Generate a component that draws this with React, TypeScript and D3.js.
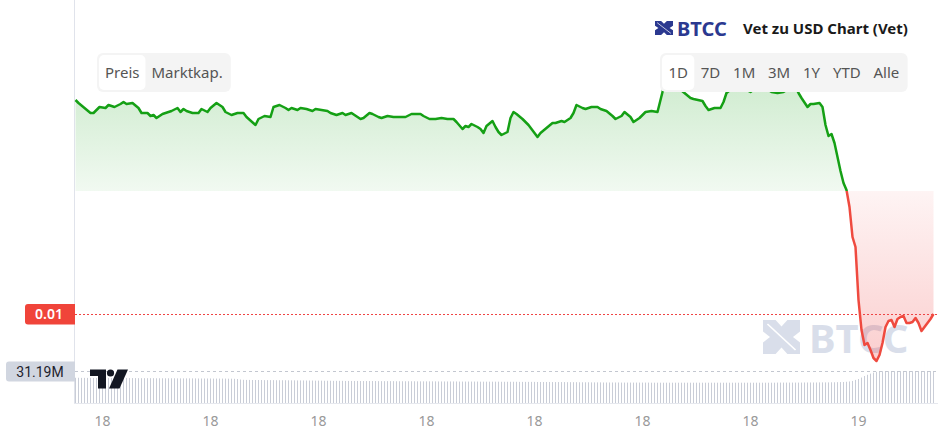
import React from "react";
import * as d3 from "d3";

// [minute since 00:00 on the 18th, price in USD]
const PRICE_POINTS: [number, number][] = [
  [135, 0.01214], [140, 0.01211], [150, 0.01206], [160, 0.01201], [165, 0.01201],
  [175, 0.01207], [185, 0.01206], [190, 0.01209], [200, 0.01207], [210, 0.0121],
  [215, 0.01212], [220, 0.0121], [230, 0.01211], [240, 0.01206], [245, 0.01201],
  [255, 0.01201], [260, 0.01198], [265, 0.01199], [270, 0.01196], [280, 0.012],
  [290, 0.01202], [295, 0.01203], [305, 0.01206], [310, 0.01202], [315, 0.01205],
  [320, 0.01203], [330, 0.01201], [340, 0.01201], [345, 0.01205], [355, 0.01202],
  [360, 0.01206], [370, 0.01211], [380, 0.01207], [385, 0.01202], [395, 0.01199],
  [405, 0.01201], [415, 0.01201], [420, 0.01197], [435, 0.01189], [440, 0.01195],
  [450, 0.01198], [460, 0.01197], [465, 0.01207], [475, 0.01209], [485, 0.01206],
  [490, 0.01204], [495, 0.01206], [505, 0.01204], [510, 0.01206], [520, 0.01205],
  [530, 0.01203], [535, 0.01205], [545, 0.01204], [555, 0.01203], [560, 0.01201],
  [570, 0.01199], [580, 0.01201], [585, 0.01199], [595, 0.01201], [605, 0.01197],
  [610, 0.01195], [615, 0.01196], [625, 0.01201], [630, 0.012], [640, 0.01197],
  [645, 0.01196], [655, 0.01198], [665, 0.01197], [675, 0.01197], [685, 0.01197],
  [695, 0.012], [710, 0.012], [715, 0.01198], [725, 0.01195], [735, 0.01195],
  [745, 0.01196], [755, 0.01195], [765, 0.01195], [770, 0.01192], [780, 0.01185],
  [785, 0.01188], [790, 0.01187], [795, 0.0119], [805, 0.01187], [810, 0.01185],
  [815, 0.01181], [820, 0.01188], [830, 0.01193], [835, 0.01187], [840, 0.01182],
  [845, 0.01179], [855, 0.01182], [860, 0.01196], [865, 0.01202], [870, 0.012],
  [880, 0.01195], [890, 0.01189], [895, 0.01185], [905, 0.01177], [910, 0.01181],
  [920, 0.01186], [930, 0.01191], [935, 0.01191], [945, 0.01193], [950, 0.01192],
  [960, 0.01196], [965, 0.01201], [970, 0.01209], [980, 0.01206], [985, 0.01205],
  [995, 0.01207], [1005, 0.01207], [1010, 0.01205], [1020, 0.01203], [1030, 0.01198],
  [1035, 0.01195], [1045, 0.01198], [1050, 0.01202], [1060, 0.01197], [1065, 0.01192],
  [1075, 0.01196], [1085, 0.01202], [1095, 0.01203], [1105, 0.01202], [1110, 0.01214],
  [1115, 0.01226], [1125, 0.0123], [1135, 0.01228], [1140, 0.01226], [1150, 0.01221],
  [1160, 0.01216], [1165, 0.01215], [1180, 0.01213], [1185, 0.01208], [1190, 0.01204],
  [1200, 0.01206], [1210, 0.01206], [1215, 0.01212], [1220, 0.01221], [1230, 0.01226],
  [1240, 0.01228], [1260, 0.01222], [1270, 0.01227], [1285, 0.01226], [1295, 0.01222],
  [1305, 0.01221], [1315, 0.01222], [1325, 0.01226], [1335, 0.01227], [1340, 0.01221],
  [1345, 0.01216], [1355, 0.01207], [1360, 0.0121], [1365, 0.0121], [1375, 0.01211],
  [1380, 0.01207], [1385, 0.01189], [1390, 0.01178], [1395, 0.0118], [1400, 0.01171],
  [1405, 0.01157], [1410, 0.01143], [1415, 0.01131], [1420, 0.01124], [1425, 0.01107],
  [1430, 0.01077], [1435, 0.01067], [1440, 0.01014], [1445, 0.00984], [1450, 0.00969],
  [1455, 0.00971], [1460, 0.00964], [1465, 0.00956], [1470, 0.00953], [1475, 0.00959],
  [1480, 0.00971], [1485, 0.00987], [1490, 0.00993], [1495, 0.00994], [1500, 0.00987],
  [1505, 0.00995], [1510, 0.00997], [1515, 0.00998], [1520, 0.00991], [1525, 0.00991],
  [1530, 0.00992], [1535, 0.00996], [1540, 0.00991], [1545, 0.00983], [1550, 0.00987],
  [1555, 0.00991], [1560, 0.00995], [1565, 0.01],
];

// volume (millions), one bar per 5 minutes starting at minute 135
const VOLUME_START = 135;
const VOLUME_STEP = 5;
const VOLUME_M = [
  24.6, 24.6, 24.5, 24.5, 24.5, 24.5, 24.4, 24.4, 24.4, 24.4,
  24.4, 24.4, 24.4, 24.3, 24.3, 24.3, 24.3, 24.3, 24.3, 24.3,
  24.3, 24.2, 24.2, 24.2, 24.2, 24.2, 24.2, 24.1, 24.1, 24.1,
  24.1, 24.1, 24.1, 24.1, 24.0, 24.0, 24.0, 24.0, 24.0, 24.0,
  24.0, 23.9, 23.9, 23.9, 23.9, 23.9, 23.8, 23.8, 23.8, 23.8,
  23.8, 23.7, 23.7, 23.6, 23.4, 22.9, 22.6, 22.5, 22.5, 22.4,
  22.4, 22.4, 22.4, 22.3, 22.3, 22.3, 22.3, 22.2, 22.2, 22.2,
  22.2, 22.1, 22.1, 22.1, 22.0, 22.0, 22.0, 21.9, 21.9, 21.9,
  21.8, 21.8, 21.8, 21.7, 21.7, 21.7, 21.6, 21.6, 21.6, 21.6,
  21.5, 21.5, 21.5, 21.5, 21.5, 21.4, 21.4, 21.4, 21.4, 21.4,
  21.4, 21.3, 21.3, 21.3, 21.3, 21.3, 21.3, 21.2, 21.2, 21.2,
  21.2, 21.2, 21.2, 21.2, 21.1, 21.1, 21.1, 21.1, 21.1, 21.1,
  21.1, 21.0, 21.0, 21.0, 21.0, 21.0, 21.0, 21.0, 20.9, 20.9,
  20.9, 20.9, 20.9, 20.9, 20.9, 20.8, 20.8, 20.8, 20.8, 20.8,
  20.8, 20.8, 20.7, 20.7, 20.7, 20.7, 20.7, 20.7, 20.6, 20.6,
  20.6, 20.6, 20.6, 20.6, 20.5, 20.5, 20.5, 20.5, 20.5, 20.4,
  20.4, 20.4, 20.4, 20.4, 20.3, 20.3, 20.3, 20.3, 20.2, 20.2,
  20.2, 20.2, 20.1, 20.1, 20.1, 20.1, 20.0, 20.0, 20.0, 20.0,
  20.0, 20.0, 19.9, 19.9, 19.9, 19.9, 19.9, 19.9, 19.9, 19.9,
  19.9, 19.9, 19.8, 19.8, 19.8, 19.8, 19.8, 19.8, 19.8, 19.8,
  19.8, 19.8, 19.8, 19.8, 19.8, 19.8, 19.8, 19.8, 19.8, 19.8,
  19.8, 19.8, 19.8, 19.8, 19.8, 19.8, 19.8, 19.8, 19.8, 19.8,
  19.8, 19.8, 19.8, 19.8, 19.8, 19.8, 19.8, 19.8, 19.8, 19.8,
  19.8, 19.8, 19.8, 19.8, 19.9, 19.9, 19.9, 19.9, 19.9, 19.9,
  19.9, 19.9, 19.9, 20.0, 20.0, 20.0, 20.0, 20.0, 20.1, 20.1,
  20.1, 20.1, 20.2, 20.2, 20.3, 20.4, 20.5, 20.7, 21.0, 21.5,
  22.5, 23.4, 24.8, 26.3, 27.5, 28.6, 29.6, 30.4, 30.9, 31.0,
  31.0, 31.0, 31.0, 31.1, 31.1, 31.1, 31.1, 31.1, 31.1, 31.1,
  31.1, 31.15, 31.15, 31.15, 31.18, 31.18, 31.19,
];

const TICK_MINUTES = [180, 360, 540, 720, 900, 1080, 1260, 1440];
const TICK_LABELS = ["18", "18", "18", "18", "18", "18", "18", "19"];
const BASELINE_PRICE = 0.01123;
const LAST_PRICE = 0.01;
const LAST_PRICE_LABEL = "0.01";
const VOLUME_MAX = 31.19;
const VOLUME_MAX_LABEL = "31.19M";
const MODE_BUTTONS = ["Preis", "Marktkap."];
const RANGE_BUTTONS = ["1D", "7D", "1M", "3M", "1Y", "YTD", "Alle"];
const TITLE = "Vet zu USD Chart (Vet)";

const W = 938;
const H = 437;
const UI_FONT = '"Noto Sans", "Open Sans", sans-serif';

function measure(text: string, font: string): number {
  const c = document.createElement("canvas").getContext("2d");
  if (!c) return text.length * 8;
  c.font = font;
  return c.measureText(text).width;
}

function ButtonGroup({ labels, x, y, h, pad, selected }: { labels: string[]; x: number; y: number; h: number; pad: number; selected: number }) {
  const font = `15px ${UI_FONT}`;
  const widths = labels.map((l) => measure(l, font) + pad * 2);
  const total = d3.sum(widths) + 4;
  let cx = x + 2;
  const items = labels.map((l, i) => {
    const bx = cx;
    cx += widths[i];
    return (
      <g key={l}>
        {i === selected && <rect x={bx} y={y + 2} width={widths[i]} height={h - 4} rx={5} fill="#ffffff" />}
        <text x={bx + widths[i] / 2} y={y + h / 2 + 5.5} textAnchor="middle" fontFamily={UI_FONT} fontSize={15} fill="#555555">
          {l}
        </text>
      </g>
    );
  });
  return (
    <g>
      <rect x={x} y={y} width={total} height={h} rx={6} fill="#f4f4f4" />
      {items}
    </g>
  );
}

function BtccIcon({ x, y, w, h, fill }: { x: number; y: number; w: number; h: number; fill: string }) {
  // stylised X mark of the BTCC logo (unit box 10 x 10)
  return (
    <g transform={`translate(${x},${y}) scale(${w / 10},${h / 10})`}>
      <path
        d="M0 0 H3.4 L5 1.9 L6.6 0 H10 V3.4 L8.1 5 L10 6.6 V10 H6.6 L5 8.1 L3.4 10 H0 V6.6 L1.9 5 L0 3.4 Z"
        fill={fill}
      />
      <path d="M1.2 1.2 L5 5 L8.8 8.8" stroke="#ffffff" strokeWidth={0.45} fill="none" />
    </g>
  );
}

export default function App() {
  const x = d3.scaleLinear().domain([135, 1565]).range([75.5, 933.5]);
  const y = d3.scaleLinear().domain([0.01, 0.012]).range([314, 114]);
  const v = d3.scaleLinear().domain([0, VOLUME_MAX]).range([403, 371]);
  const baseY = y(BASELINE_PRICE);

  const area = d3
    .area<[number, number]>()
    .x((d) => x(d[0]))
    .y0(baseY)
    .y1((d) => y(d[1]));
  const line = d3
    .line<[number, number]>()
    .x((d) => x(d[0]))
    .y((d) => y(d[1]));

  const areaPath = area(PRICE_POINTS) || "";
  const linePath = line(PRICE_POINTS) || "";
  const volTimes = VOLUME_M.map((_, i) => VOLUME_START + i * VOLUME_STEP);
  const lp = y(LAST_PRICE);
  const vm = v(VOLUME_MAX);

  return (
    <div style={{ position: "absolute", left: 0, top: 0 }}>
      <svg width={W} height={H} viewBox={`0 0 ${W} ${H}`} style={{ display: "block", background: "#fff" }}>
        <defs>
          <linearGradient id="gTop" gradientUnits="userSpaceOnUse" x1="0" y1="85" x2="0" y2={baseY}>
            <stop offset="0" stopColor="#16a016" stopOpacity={0.2} />
            <stop offset="1" stopColor="#16a016" stopOpacity={0.06} />
          </linearGradient>
          <linearGradient id="gBot" gradientUnits="userSpaceOnUse" x1="0" y1={baseY} x2="0" y2="362">
            <stop offset="0" stopColor="#ef4444" stopOpacity={0.06} />
            <stop offset="1" stopColor="#ef4444" stopOpacity={0.26} />
          </linearGradient>
          <clipPath id="clipTop">
            <rect x={0} y={0} width={W} height={baseY} />
          </clipPath>
          <clipPath id="clipBot">
            <rect x={0} y={baseY} width={W} height={H - baseY} />
          </clipPath>
        </defs>

        {/* watermark */}
        <BtccIcon x={763} y={320} w={37} h={34} fill="#d9deea" />
        <text x={809} y={353} fontFamily={UI_FONT} fontWeight={700} fontSize={40} fill="#d9deea">
          BTCC
        </text>

        {/* axes frame */}
        <line x1={74.5} x2={74.5} y1={0} y2={403} stroke="#e0e3eb" />
        <line x1={74} x2={W} y1={403.5} y2={403.5} stroke="#e6e8ee" />

        {/* volume */}
        {VOLUME_M.map((val, i) => (
          <rect key={i} x={x(volTimes[i]) - 0.5} y={v(val)} width={1} height={v(0) - v(val)} fill="#c9cdd7" />
        ))}
        <line x1={75} x2={W} y1={vm + 0.5} y2={vm + 0.5} stroke="#c3c7d0" strokeDasharray="3 3" />

        {/* baseline areas */}
        <path d={areaPath} fill="url(#gTop)" clipPath="url(#clipTop)" />
        <path d={areaPath} fill="url(#gBot)" clipPath="url(#clipBot)" />

        {/* last price line */}
        <line x1={75} x2={W} y1={lp + 0.5} y2={lp + 0.5} stroke="#ef4444" strokeDasharray="2 2" />

        {/* price line */}
        <path d={linePath} fill="none" stroke="#15a015" strokeWidth={2.5} strokeLinejoin="round" clipPath="url(#clipTop)" />
        <path d={linePath} fill="none" stroke="#ef4a3f" strokeWidth={2.5} strokeLinejoin="round" clipPath="url(#clipBot)" />

        {/* price scale labels */}
        <path d={`M28 ${lp - 10} H75 V${lp + 10.5} H28 A3 3 0 0 1 25 ${lp + 7.5} V${lp - 7} A3 3 0 0 1 28 ${lp - 10} Z`} fill="#f0443a" />
        <text x={49} y={lp + 5} textAnchor="middle" fontFamily={UI_FONT} fontWeight={600} fontSize={14} fill="#ffffff">
          {LAST_PRICE_LABEL}
        </text>
        <path d={`M9 ${vm - 9.5} H75 V${vm + 10.5} H9 A3 3 0 0 1 6 ${vm + 7.5} V${vm - 6.5} A3 3 0 0 1 9 ${vm - 9.5} Z`} fill="#d1d6e0" />
        <text x={40} y={vm + 5.5} textAnchor="middle" fontFamily="Roboto, sans-serif" fontSize={14} fill="#1e222d">
          {VOLUME_MAX_LABEL}
        </text>

        {/* TradingView logo */}
        <g fill="#131722">
          <path d="M90 369.5 H106 V388.5 H98 V376 H90 Z" />
          <circle cx={110.5} cy={373} r={3.6} />
          <path d="M117.5 369.5 H128 L119.5 388.5 H109 Z" />
        </g>

        {/* time axis */}
        {TICK_MINUTES.map((m, i) => (
          <text key={m} x={x(m)} y={426} textAnchor="middle" fontFamily={UI_FONT} fontSize={14} fill="#999999">
            {TICK_LABELS[i]}
          </text>
        ))}

        {/* header */}
        <BtccIcon x={655} y={21} w={18} h={14} fill="#2b3990" />
        <text x={677} y={35.5} fontFamily={UI_FONT} fontWeight={700} fontSize={20} fill="#2b3990">
          BTCC
        </text>
        <text x={743} y={33.5} fontFamily={UI_FONT} fontWeight={700} fontSize={15} fill="#1a1a1a">
          {TITLE}
        </text>

        <ButtonGroup labels={MODE_BUTTONS} x={97} y={53} h={39} pad={6} selected={0} />
        <ButtonGroup labels={RANGE_BUTTONS} x={660} y={53} h={39} pad={6.4} selected={0} />
      </svg>
    </div>
  );
}
